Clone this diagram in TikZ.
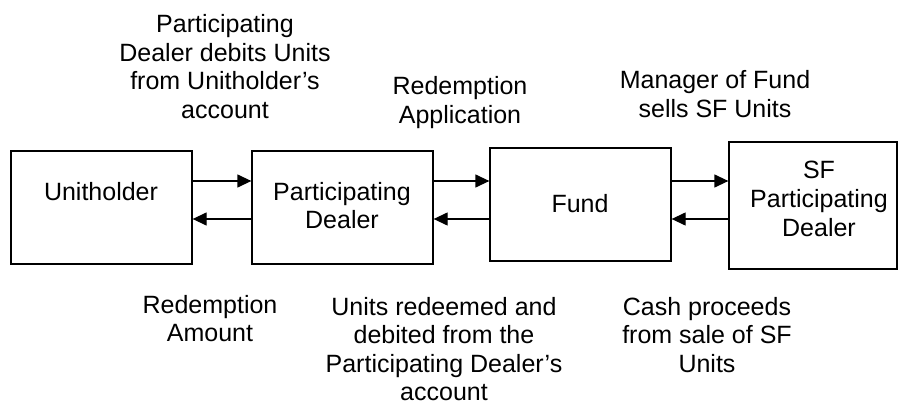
\documentclass[tikz,border=0pt]{standalone}
\usepackage{fontspec}
\setmainfont{Liberation Sans}
\usetikzlibrary{arrows.meta}
\begin{document}
\begin{tikzpicture}[x=0.5pt,y=-0.5pt,
  box/.style={draw, line width=0.65pt, inner sep=0pt},
  % text nodes are placed by the baseline of their last line
  txt/.style={align=center, inner sep=0pt, anchor=base, font=\fontsize{12.5}{14.25}\selectfont},
  flow/.style={line width=0.65pt, -{Triangle[length=7pt,width=6.5pt]}}]
\useasboundingbox (0,0) rectangle (898,406);

% parties
\node[box, minimum width=90.5pt, minimum height=56.5pt] (u)    at (101.5,207.5) {};
\node[box, minimum width=90.5pt, minimum height=56.5pt] (pd)   at (342.5,207.5) {};
\node[box, minimum width=90.5pt, minimum height=56.5pt] (fund) at (580.5,204.5) {};
\node[box, minimum width=84pt,   minimum height=63.5pt] (sf)   at (813,205.5) {};

\node[txt] (ut)  at (101,200) {Unitholder};
\node[txt] (pdt) at (342,228.5) {Participating\\Dealer};
\node[txt] (ft)  at (580,213) {Fund};
\node[txt] (sft) at (819,236) {SF\\Participating\\Dealer};

% flow rows
\coordinate (hi) at (0,181);
\coordinate (lo) at (0,219);

\draw[flow] (u.east |- hi) -- (pd.west |- hi);
\draw[flow] (pd.west |- lo) -- (u.east |- lo);
\draw[flow] (pd.east |- hi) -- (fund.west |- hi);
\draw[flow] (fund.west |- lo) -- (pd.east |- lo);
\draw[flow] (fund.east |- hi) -- (sf.west |- hi);
\draw[flow] (sf.west |- lo) -- (fund.east |- lo);

% labels above
\node[txt] (l1) at (225,118.5) {Participating\\Dealer debits Units\\from Unitholder’s\\account};
\node[txt] (l2) at (460,123.5) {Redemption\\Application};
\node[txt] (l3) at (715,117.5) {Manager of Fund\\sells SF Units};

% labels below
\node[txt] (l4) at (210,341.5) {Redemption\\Amount};
\node[txt] (l5) at (444,400.5) {Units redeemed and\\debited from the\\Participating Dealer’s\\account};
\node[txt] (l6) at (707,372) {Cash proceeds\\from sale of SF\\Units};
\end{tikzpicture}
\end{document}
